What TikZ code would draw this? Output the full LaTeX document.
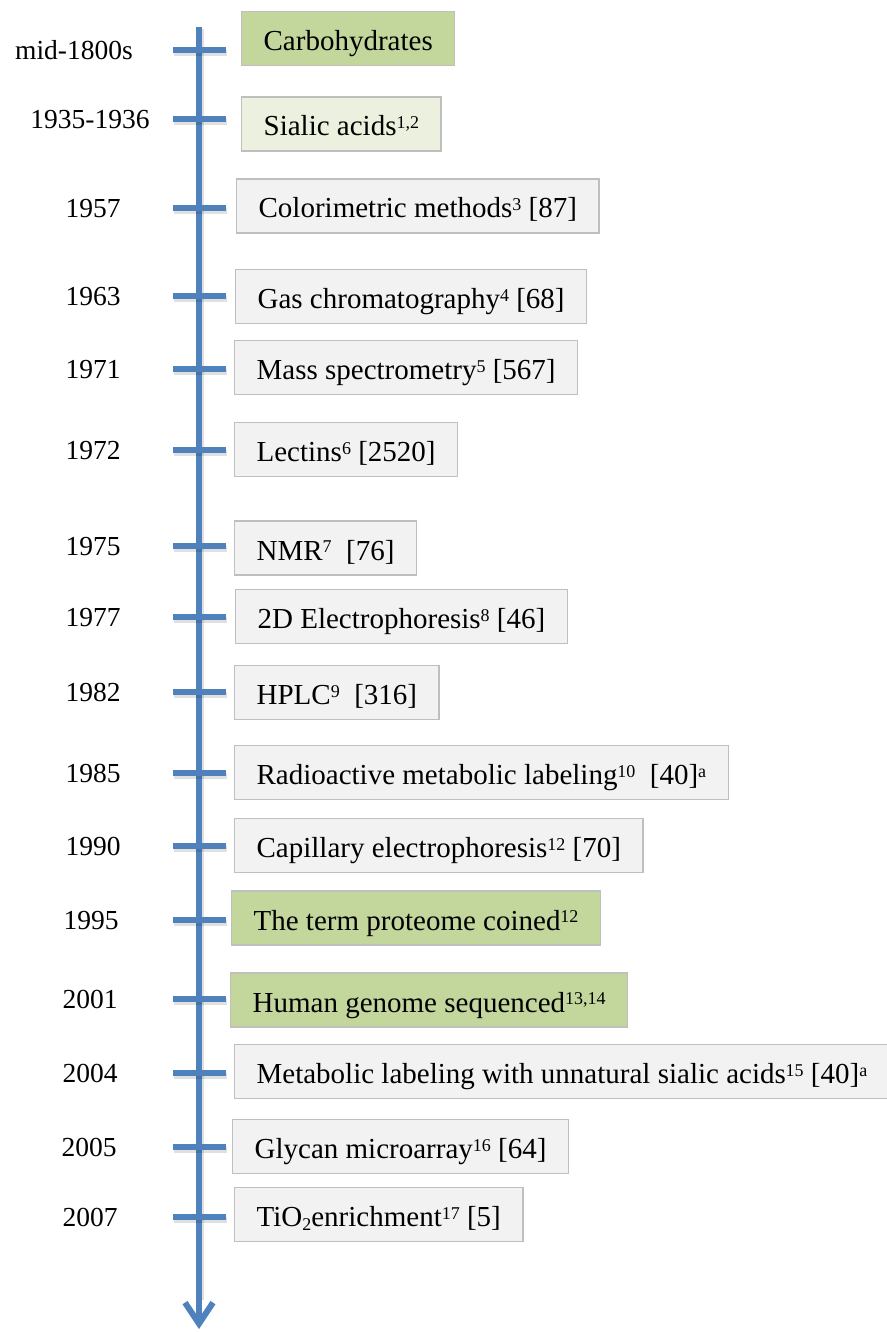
\documentclass[tikz,border=0pt]{standalone}
\usepackage{fontspec}
\setmainfont{Liberation Serif}
\usetikzlibrary{arrows.meta}
\definecolor{axisblue}{HTML}{4F81BD}
\definecolor{mainGreen}{HTML}{C3D69B}
\definecolor{paleGreen}{HTML}{EBF1DE}
\definecolor{boxGray}{HTML}{F2F2F2}
\definecolor{edgeGray}{HTML}{BFBFBF}
\newcommand{\refsup}[1]{\raisebox{7.5pt}{\fontsize{18}{18}\selectfont #1}}
\newcommand{\chemsub}[1]{\raisebox{-3.5pt}{\fontsize{18}{18}\selectfont #1}}
\begin{document}
\begin{tikzpicture}[x=1pt,y=-1pt,
  evbox/.style={draw=edgeGray, line width=1.3pt, fill=boxGray, anchor=west,
    inner xsep=22pt, inner ysep=0pt, minimum height=54pt,
    text height=25pt, text depth=1pt, font=\fontsize{29}{34}\selectfont},
  keybox/.style={evbox, fill=mainGreen},
  yearlbl/.style={font=\fontsize{27.5}{32}\selectfont, text height=19pt, text depth=0pt},
  axisline/.style={draw=axisblue, line width=6pt},
  yeartick/.style={draw=axisblue, line width=6pt},
  tickshadow/.style={draw=black, line width=6pt, opacity=0.12}]
\useasboundingbox (0,0) rectangle (886,1332);
% time axis
\coordinate (top) at (199,27);
\coordinate (bot) at (199,1329);
\draw[tickshadow] (201,29) -- (201,1300);
\draw[axisline, -{Straight Barb[length=21pt, width=28pt]}] (top) -- (bot);
\foreach \y in {50,119,208,296,369,450,546,617,692,773,846,920,999,1073,1147,1217} {
  \draw[tickshadow] (174,\y+3) -- (227,\y+3);
  \draw[yeartick] (173,\y) -- (226,\y);
}
% events
\node[keybox] (carb) at (241,38.5) {Carbohydrates};
\node[evbox, fill=paleGreen] (sialic) at (241,124) {Sialic acids\refsup{1,2}};
\node[evbox] (colori) at (236,206) {Colorimetric methods\refsup{3} [87]};
\node[evbox] (gc) at (235,296.5) {Gas chromatography\refsup{4} [68]};
\node[evbox] (ms) at (234,367.5) {Mass spectrometry\refsup{5} [567]};
\node[evbox] (lectin) at (234,449.5) {Lectins\refsup{6} [2520]};
\node[evbox] (nmr) at (234,548) {NMR\refsup{7}~ [76]};
\node[evbox] (ep2d) at (235,616.5) {2D Electrophoresis\refsup{8} [46]};
\node[evbox] (hplc) at (234,692.5) {HPLC\refsup{9}~ [316]};
\node[evbox] (radio) at (234,772.5) {Radioactive metabolic labeling\refsup{10}~ [40]\refsup{a}};
\node[evbox] (ce) at (234,845.5) {Capillary electrophoresis\refsup{12} [70]};
\node[keybox] (proteome) at (231,918) {The term proteome coined\refsup{12}};
\node[keybox] (genome) at (230,1000) {Human genome sequenced\refsup{13,14}};
\node[evbox] (unnat) at (234,1071.5) {Metabolic labeling with unnatural sialic acids\refsup{15} [40]\refsup{a}};
\node[evbox] (array) at (232,1146.5) {Glycan microarray\refsup{16} [64]};
\node[evbox] (tio) at (234,1214.5) {TiO\chemsub{2}enrichment\refsup{17} [5]};
% years
\node[yearlbl] (y1800) at (74,50) {mid-1800s};
\node[yearlbl] (y1935) at (90,119) {1935-1936};
\node[yearlbl] (y1957) at (93,208) {1957};
\node[yearlbl] (y1963) at (93,296) {1963};
\node[yearlbl] (y1971) at (93,369) {1971};
\node[yearlbl] (y1972) at (93,450) {1972};
\node[yearlbl] (y1975) at (93,546) {1975};
\node[yearlbl] (y1977) at (93,617) {1977};
\node[yearlbl] (y1982) at (93,692) {1982};
\node[yearlbl] (y1985) at (93,773) {1985};
\node[yearlbl] (y1990) at (93,846) {1990};
\node[yearlbl] (y1995) at (91,920) {1995};
\node[yearlbl] (y2001) at (90,999) {2001};
\node[yearlbl] (y2004) at (90,1073) {2004};
\node[yearlbl] (y2005) at (89,1147) {2005};
\node[yearlbl] (y2007) at (90,1217) {2007};
\end{tikzpicture}
\end{document}
